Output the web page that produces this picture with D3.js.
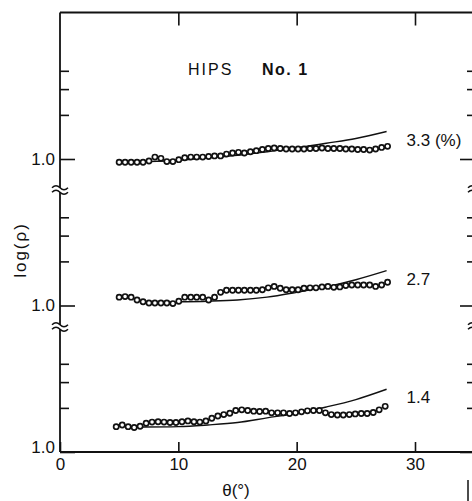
<!DOCTYPE html>
<html>
<head>
<meta charset="utf-8">
<script src="https://cdn.jsdelivr.net/npm/d3@7"></script>
<style>
  body { margin: 0; background: #fff; overflow: hidden; }
  svg { display: block; font-family: "Liberation Sans", Arial, sans-serif; }
</style>
</head>
<body>
<svg class="chart" width="472" height="501"></svg>
<script>
// measured angles (deg), upper two curves and the lowest one
let thetaUpper = [5.00, 5.50, 6.01, 6.51, 7.02, 7.52, 8.02, 8.53, 9.03, 9.54, 10.04, 10.54, 11.05, 11.55, 12.06, 12.56,
  13.06, 13.57, 14.07, 14.58, 15.08, 15.58, 16.09, 16.59, 17.10, 17.60, 18.10, 18.61, 19.11, 19.62, 20.12, 20.62,
  21.13, 21.63, 22.14, 22.64, 23.14, 23.65, 24.15, 24.66, 25.16, 25.66, 26.17, 26.67, 27.18, 27.68];
let thetaLower = [4.75, 5.26, 5.76, 6.27, 6.77, 7.28, 7.78, 8.29, 8.79, 9.30, 9.80, 10.31, 10.81, 11.32, 11.82, 12.33,
  12.83, 13.34, 13.84, 14.35, 14.85, 15.36, 15.86, 16.37, 16.87, 17.38, 17.88, 18.39, 18.89, 19.40, 19.90, 20.41,
  20.91, 21.42, 21.92, 22.43, 22.93, 23.44, 23.94, 24.45, 24.95, 25.46, 25.96, 26.47, 26.97, 27.48];

// measured rho, one list per concentration
let rho33 = [0.95, 0.95, 0.95, 0.95, 0.95, 0.97, 1.03, 1.01, 0.96, 0.96, 0.99, 1.02, 1.03, 1.03, 1.03, 1.04,
  1.05, 1.05, 1.08, 1.10, 1.11, 1.10, 1.12, 1.14, 1.16, 1.18, 1.19, 1.18, 1.17, 1.17, 1.17, 1.17,
  1.18, 1.18, 1.19, 1.18, 1.18, 1.18, 1.17, 1.17, 1.16, 1.16, 1.15, 1.17, 1.20, 1.22];
let rho27 = [1.14, 1.15, 1.14, 1.09, 1.06, 1.04, 1.04, 1.04, 1.04, 1.03, 1.07, 1.14, 1.14, 1.14, 1.14, 1.09,
  1.14, 1.23, 1.27, 1.27, 1.27, 1.27, 1.27, 1.27, 1.28, 1.32, 1.35, 1.31, 1.28, 1.28, 1.28, 1.31,
  1.32, 1.32, 1.34, 1.35, 1.33, 1.34, 1.37, 1.38, 1.38, 1.38, 1.38, 1.35, 1.38, 1.44];
let rho14 = [1.49, 1.53, 1.49, 1.47, 1.50, 1.57, 1.60, 1.61, 1.60, 1.59, 1.59, 1.61, 1.63, 1.61, 1.60, 1.63,
  1.70, 1.76, 1.80, 1.84, 1.92, 1.94, 1.92, 1.90, 1.89, 1.90, 1.85, 1.85, 1.85, 1.83, 1.85, 1.88,
  1.91, 1.92, 1.92, 1.85, 1.80, 1.79, 1.79, 1.80, 1.82, 1.83, 1.83, 1.86, 1.94, 2.05];

// calculated curves
let calcTheta33 = [7.4, 10, 12.5, 15, 17.5, 20, 22.5, 25, 27.6];
let calcRho33 = [0.96, 0.98, 1.02, 1.06, 1.12, 1.19, 1.28, 1.38, 1.54];
let calcTheta27 = [9.8, 12.5, 15, 17.5, 20, 22.5, 25, 27.6];
let calcRho27 = [1.06, 1.07, 1.09, 1.14, 1.23, 1.34, 1.50, 1.73];
let calcTheta14 = [7.0, 10, 12.5, 15, 17.5, 20, 22.5, 25, 27.6];
let calcRho14 = [1.48, 1.49, 1.53, 1.59, 1.71, 1.84, 2.03, 2.28, 2.68];

let seriesLabels = ["3.3 (%)", "2.7", "1.4"];
let panelShift = [100, 10, 1];   // each panel sits one decade above the one below
let xTicks = [0, 10, 20, 30];
let yTicks = [1, 2, 3, 4];

let svg = d3.select("body").select(".chart");
let margin = { top: 12.5, left: 60, bottom: 49 };
let plotWidth = 419;      // right frame lies just outside the picture, only its ticks show
let plotHeight = 501 - margin.top - margin.bottom;

let xScale = d3.scaleLinear().domain([0, 30]).range([0, 355]);
let yScale = d3.scaleLog().domain([1, 1000]).range([plotHeight, 0]);

let plot = svg.append("g").attr("transform", translate(margin.left, margin.top));

// ticks
function styleAxis(g) {
  g.select(".domain").remove();
  g.selectAll(".tick line").attr("stroke", "#111").attr("stroke-width", 1.6);
  g.selectAll("text").attr("font-size", 17).attr("fill", "#111")
    .attr("font-family", "'Liberation Sans', Arial, sans-serif");
}

panelShift.forEach(function (f) {
  let leftAxis = d3.axisLeft(yScale)
    .tickValues(yTicks.map(t => t * f))
    .tickSize(-9).tickPadding(5)
    .tickFormat(d => d === f ? "1.0" : "");
  let gl = plot.append("g").call(leftAxis).call(styleAxis);
  gl.selectAll(".tick").filter(d => d === f).select("line").attr("x2", 15);
  if (f === 1) gl.selectAll(".tick text").attr("dy", "0.05em");

  let rightAxis = d3.axisRight(yScale)
    .tickValues(yTicks.map(t => t * f))
    .tickSize(-12).tickFormat("");
  let gr = plot.append("g").attr("transform", translate(plotWidth, 0)).call(rightAxis).call(styleAxis);
  gr.selectAll(".tick").filter(d => d === f).select("line").attr("x2", -19);
});

let topAxis = d3.axisTop(xScale).tickValues([10, 20, 30]).tickSize(-13).tickFormat("");
plot.append("g").call(topAxis).call(styleAxis);

let bottomAxis = d3.axisBottom(xScale).tickValues(xTicks).tickSize(-10).tickPadding(6);
plot.append("g").attr("transform", translate(0, plotHeight)).call(bottomAxis).call(styleAxis);

// frame: left, top and bottom lines
let frame = plot.append("g").attr("stroke", "#111").attr("stroke-width", 1.8).attr("fill", "none");
frame.append("line").attr("x1", 0).attr("x2", plotWidth).attr("y1", 0).attr("y2", 0);
frame.append("line").attr("x1", 0).attr("x2", plotWidth).attr("y1", plotHeight).attr("y2", plotHeight);
frame.append("line").attr("x1", 0).attr("x2", 0).attr("y1", 0).attr("y2", plotHeight);

// axis breaks
let breaks = [177.5, 314.5];
[0, plotWidth - 3].forEach(function (ax) {
  breaks.forEach(function (by) {
    let b = plot.append("g").attr("transform", translate(ax, by));
    b.append("rect").attr("x", -3).attr("y", -2).attr("width", 6).attr("height", 4).attr("fill", "#fff");
    [-2.2, 2.2].forEach(function (o) {
      b.append("path")
        .attr("d", "M-8," + o + " q4,-4 8,0 t8,0")
        .attr("fill", "none").attr("stroke", "#111").attr("stroke-width", 1.5);
    });
  });
});

// curves and points
let series = [
  { label: seriesLabels[0], f: panelShift[0], theta: thetaUpper, rho: rho33, ct: calcTheta33, cr: calcRho33 },
  { label: seriesLabels[1], f: panelShift[1], theta: thetaUpper, rho: rho27, ct: calcTheta27, cr: calcRho27 },
  { label: seriesLabels[2], f: panelShift[2], theta: thetaLower, rho: rho14, ct: calcTheta14, cr: calcRho14 }
];

let line = d3.line()
  .x(d => xScale(d[0]))
  .y(d => yScale(d[1]))
  .curve(d3.curveMonotoneX);

series.forEach(function (s) {
  let calc = s.ct.map((t, i) => [t, s.cr[i] * s.f]);
  plot.append("path")
    .datum(calc)
    .attr("fill", "none")
    .attr("stroke", "#111")
    .attr("stroke-width", 1.4)
    .attr("d", line);

  let pts = s.theta.map((t, i) => [t, s.rho[i] * s.f]);
  plot.selectAll(null)
    .data(pts)
    .enter().append("circle")
    .attr("cx", d => xScale(d[0]))
    .attr("cy", d => yScale(d[1]))
    .attr("r", 2.6)
    .attr("fill", "#fff")
    .attr("stroke", "#111")
    .attr("stroke-width", 1.7);

  let end = calc[calc.length - 1];
  plot.append("text")
    .attr("x", xScale(end[0]) + 20)
    .attr("y", yScale(end[1]) + 14)
    .attr("font-size", 17)
    .attr("fill", "#111")
    .text(s.label);
});

// title
plot.append("text")
  .attr("x", 128).attr("y", 62.5)
  .attr("font-size", 16).attr("letter-spacing", 2).attr("fill", "#111")
  .text("HIPS");
plot.append("text")
  .attr("x", 202).attr("y", 62.5)
  .attr("font-size", 16).attr("font-weight", "bold").attr("letter-spacing", 1.5).attr("fill", "#111")
  .text("No. 1");

// axis labels
svg.append("text")
  .attr("transform", "translate(26,250) rotate(-90)")
  .attr("text-anchor", "middle")
  .attr("font-size", 17).attr("letter-spacing", 2).attr("fill", "#111")
  .text("log(\u03c1)");

svg.append("text")
  .attr("x", 236).attr("y", 496)
  .attr("text-anchor", "middle")
  .attr("font-size", 17).attr("fill", "#111")
  .text("\u03b8(\u00b0)");

// stray mark of the neighbouring figure at the lower right
svg.append("line")
  .attr("x1", 468).attr("x2", 468).attr("y1", 480).attr("y2", 501)
  .attr("stroke", "#111").attr("stroke-width", 1.5);

function translate(x, y) {
  return 'translate(' + x + ',' + y + ')';
}
</script>
</body>
</html>
